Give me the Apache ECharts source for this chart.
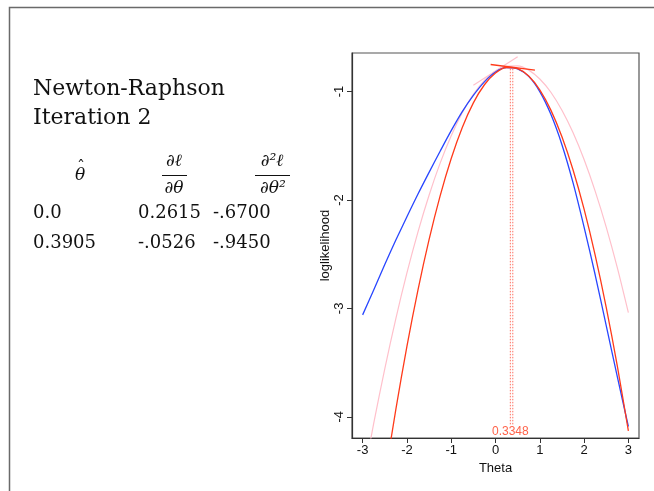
<!DOCTYPE html>
<html>
<head>
<meta charset="utf-8">
<script src="https://cdn.jsdelivr.net/npm/echarts@6/dist/echarts.min.js"></script>
<style>
  html, body { margin: 0; padding: 0; background: #fff; }
  #main { width: 654px; height: 491px; }
</style>
</head>
<body>
<div id="main"></div>
<script>
// theta grid the curves were read at
var thetaGrid = [-3, -2.75, -2.5, -2.25, -2, -1.75, -1.5, -1.25, -1, -0.75, -0.5, -0.25,
                 0, 0.25, 0.5, 0.75, 1, 1.25, 1.5, 1.75, 2, 2.25, 2.5, 2.75, 3];

// log likelihood (blue)
var logLik = [-3.06, -2.83, -2.595, -2.37, -2.155, -1.945, -1.745, -1.55, -1.36, -1.185, -1.035, -0.91,
              -0.82, -0.778, -0.79, -0.86, -1.0, -1.21, -1.49, -1.84, -2.25, -2.69, -3.16, -3.63, -4.09];

// quadratic approximation at iteration 2 (red)
var quadIter2 = [-6.03, -5.271, -4.572, -3.932, -3.351, -2.829, -2.366, -1.962, -1.617, -1.331, -1.104, -0.937,
                 -0.828, -0.778, -0.788, -0.856, -0.984, -1.171, -1.417, -1.721, -2.085, -2.508, -2.99, -3.531, -4.131];

// quadratic approximation at iteration 1 (pink)
var quadIter1 = [-4.61, -4.062, -3.558, -3.094, -2.673, -2.294, -1.956, -1.66, -1.407, -1.194, -1.025, -0.896,
                 -0.81, -0.766, -0.763, -0.802, -0.884, -1.006, -1.172, -1.378, -1.627, -1.918, -2.25, -2.624, -3.04];

// tangent segments
var tangent1X = [-0.5, 0.5];
var tangent1Y = [-0.941, -0.679];
var tangent2X = [-0.1095, 0.8905];
var tangent2Y = [-0.75, -0.802];

// dotted lines at the estimates
var estX = [0.3348, 0.3905];
var estTop = [-0.775, -0.776];
var estBottom = -4.07;
var estLabel = 0.3348;

var xTicks = [-3, -2, -1, 0, 1, 2, 3];
var yTicks = [-4, -3, -2, -1];

// table on the left
var tableRows = [
  ['0.0', '0.2615', '-.6700'],
  ['0.3905', '-.0526', '-.9450']
];

function pairs(xs, ys) {
  return xs.map(function (x, i) { return [x, ys[i]]; });
}

var serif = '"DejaVu Serif", "Liberation Serif", serif';
var sans = '"Liberation Sans", Arial, Helvetica, sans-serif';

var graphics = [
  {
    type: 'rect', silent: true,
    shape: { x: 9.5, y: 7.5, width: 700, height: 600 },
    style: { fill: 'none', stroke: '#6a6a6a', lineWidth: 1.5 }
  },
  { type: 'text', style: { text: 'Newton-Raphson', x: 33, y: 89, font: '22px ' + serif, fill: '#111', textVerticalAlign: 'middle', verticalAlign: 'middle' } },
  { type: 'text', style: { text: 'Iteration 2', x: 33, y: 118, font: '22px ' + serif, fill: '#111', textVerticalAlign: 'middle', verticalAlign: 'middle' } },
  // theta hat
  { type: 'text', style: { text: 'θ', x: 80, y: 176, font: 'italic 17px ' + serif, fill: '#111', textAlign: 'center', align: 'center', textVerticalAlign: 'middle', verticalAlign: 'middle' } },
  { type: 'text', style: { text: 'ˆ', x: 81, y: 168, font: '16px ' + serif, fill: '#111', textAlign: 'center', align: 'center', textVerticalAlign: 'middle', verticalAlign: 'middle' } },
  // dl/dtheta
  { type: 'text', style: { text: '∂ℓ', x: 174, y: 162, font: 'italic 17px ' + serif, fill: '#111', textAlign: 'center', align: 'center', textVerticalAlign: 'middle', verticalAlign: 'middle' } },
  { type: 'line', shape: { x1: 162, y1: 175.5, x2: 187, y2: 175.5 }, style: { stroke: '#111', lineWidth: 1 } },
  { type: 'text', style: { text: '∂θ', x: 174, y: 189, font: 'italic 17px ' + serif, fill: '#111', textAlign: 'center', align: 'center', textVerticalAlign: 'middle', verticalAlign: 'middle' } },
  // d2l/dtheta2
  { type: 'text', style: { text: '∂²ℓ', x: 272, y: 162, font: 'italic 17px ' + serif, fill: '#111', textAlign: 'center', align: 'center', textVerticalAlign: 'middle', verticalAlign: 'middle' } },
  { type: 'line', shape: { x1: 255, y1: 175.5, x2: 290, y2: 175.5 }, style: { stroke: '#111', lineWidth: 1 } },
  { type: 'text', style: { text: '∂θ²', x: 273, y: 189, font: 'italic 17px ' + serif, fill: '#111', textAlign: 'center', align: 'center', textVerticalAlign: 'middle', verticalAlign: 'middle' } }
];

var colX = [33, 138, 213];
var rowY = [213, 243];
tableRows.forEach(function (row, r) {
  row.forEach(function (cell, c) {
    graphics.push({
      type: 'text',
      style: { text: cell, x: colX[c], y: rowY[r], font: '18px ' + serif, fill: '#111', textVerticalAlign: 'middle', verticalAlign: 'middle' }
    });
  });
});

var dottedStyle = { color: '#ff7060', width: 1, type: [1.5, 1.5] };

var series = [
  {
    type: 'line', data: pairs(thetaGrid, quadIter1), smooth: 0.3, symbol: 'none',
    lineStyle: { color: '#ffc0cb', width: 1.2 }, z: 2
  },
  {
    type: 'line', data: pairs(tangent1X, tangent1Y), symbol: 'none',
    lineStyle: { color: '#ffc0cb', width: 1.2 }, z: 2
  },
  {
    type: 'line', data: pairs(thetaGrid, logLik), smooth: 0.3, symbol: 'none',
    lineStyle: { color: '#2846ff', width: 1.3 }, z: 3
  },
  {
    type: 'line', data: pairs(thetaGrid, quadIter2), smooth: 0.3, symbol: 'none',
    lineStyle: { color: '#ff3a1a', width: 1.3 }, z: 4
  },
  {
    type: 'line', data: pairs(tangent2X, tangent2Y), symbol: 'none',
    lineStyle: { color: '#ff3a1a', width: 1.3 }, z: 4
  },
  {
    type: 'scatter', data: [[estLabel, -4.135]], symbolSize: 0,
    label: {
      show: true, position: 'inside', formatter: function () { return String(estLabel); },
      color: '#ff3a1a', fontSize: 12, fontFamily: sans
    }, z: 5
  }
];
estX.forEach(function (x, i) {
  series.push({
    type: 'line', data: [[x, estBottom], [x, estTop[i]]], symbol: 'none',
    lineStyle: dottedStyle, z: 1
  });
});

var chart = echarts.init(document.getElementById('main'), null, { renderer: 'canvas' });
chart.setOption({
  animation: false,
  backgroundColor: '#fff',
  graphic: graphics,
  grid: {
    left: 352, top: 53, right: 15, bottom: 53,
    show: true, borderColor: '#555', borderWidth: 1.2, containLabel: false
  },
  xAxis: {
    type: 'value', min: -3.24, max: 3.24,
    name: 'Theta', nameLocation: 'middle', nameGap: 19,
    nameTextStyle: { color: '#111', fontSize: 13, fontFamily: sans },
    axisLine: { show: true, onZero: false, lineStyle: { color: '#333', width: 1.2 } },
    axisTick: { show: true, inside: false, length: 5, customValues: xTicks, lineStyle: { color: '#333' } },
    axisLabel: { customValues: xTicks, color: '#111', fontSize: 13, fontFamily: sans, margin: 6 },
    splitLine: { show: false }
  },
  yAxis: {
    type: 'value', min: -4.196, max: -0.644,
    name: 'loglikelihood', nameLocation: 'middle', nameGap: 20, nameRotate: 90,
    nameTextStyle: { color: '#111', fontSize: 13, fontFamily: sans },
    axisLine: { show: true, onZero: false, lineStyle: { color: '#333', width: 1.2 } },
    axisTick: { show: true, inside: false, length: 5, customValues: yTicks, lineStyle: { color: '#333' } },
    axisLabel: { customValues: yTicks, rotate: 90, color: '#111', fontSize: 13, fontFamily: sans, margin: 6 },
    splitLine: { show: false }
  },
  series: series
});
</script>
</body>
</html>
